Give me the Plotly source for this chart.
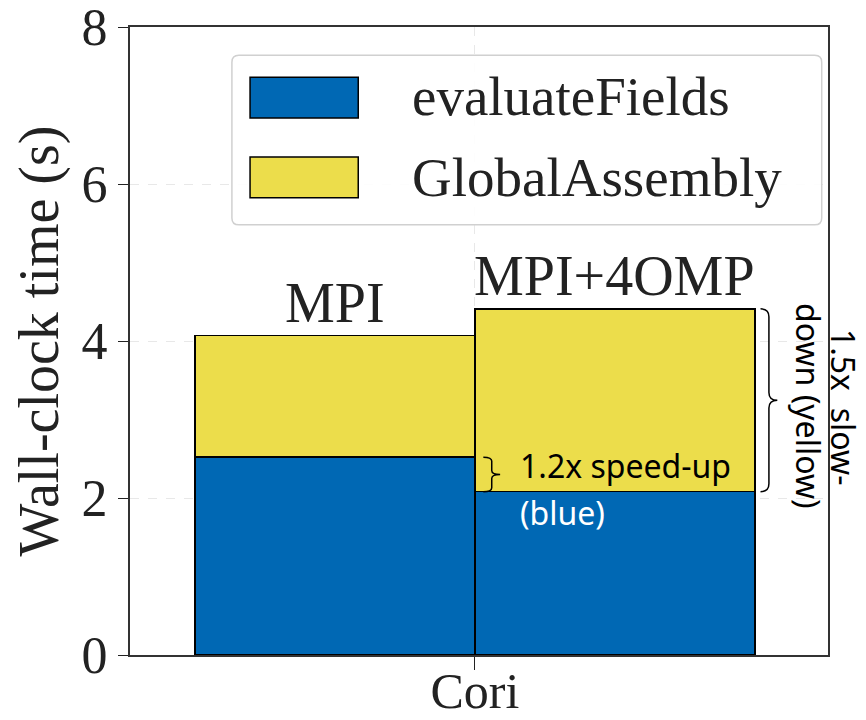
import plotly.graph_objects as go

configs = ["MPI", "MPI+4OMP"]
bar_pos = [-0.5, 0.5]
evaluate_fields = [2.52, 2.08]
global_assembly = [1.55, 2.33]
yticks = [0, 2, 4, 6, 8]

BLUE = "#0068B4"
YELLOW = "#ECDD4B"
SERIF = "Liberation Serif, DejaVu Serif, serif"
SANS = "Noto Sans, Open Sans, sans-serif"

fig = go.Figure()
fig.add_trace(go.Bar(x=bar_pos, y=evaluate_fields, width=1, name="evaluateFields",
                     marker=dict(color=BLUE, line=dict(color="black", width=1.5))))
fig.add_trace(go.Bar(x=bar_pos, y=global_assembly, width=1, name="GlobalAssembly",
                     marker=dict(color=YELLOW, line=dict(color="black", width=1.5))))

totals = [a + b for a, b in zip(evaluate_fields, global_assembly)]
for xp, tot, lab in zip(bar_pos, totals, configs):
    fig.add_annotation(x=xp, y=tot, text=lab, showarrow=False, xanchor="center",
                       yanchor="bottom", yshift=0, font=dict(family=SERIF, size=56, color="#222"))


def brace(xl, ytop, ybot, w, d):
    ym = (ytop + ybot) / 2
    xm = xl + w / 2
    return (f"M {xl},{ytop} Q {xm},{ytop} {xm},{ytop - d} L {xm},{ym + d} "
            f"Q {xm},{ym} {xl + w},{ym} Q {xm},{ym} {xm},{ym - d} "
            f"L {xm},{ybot + d} Q {xm},{ybot} {xl},{ybot}")


def rounded_box(x0, y0, x1, y1, rx, ry):
    return (f"M {x0 + rx},{y0} L {x1 - rx},{y0} Q {x1},{y0} {x1},{y0 + ry} "
            f"L {x1},{y1 - ry} Q {x1},{y1} {x1 - rx},{y1} L {x0 + rx},{y1} "
            f"Q {x0},{y1} {x0},{y1 - ry} L {x0},{y0 + ry} Q {x0},{y0} {x0 + rx},{y0} Z")


# small brace: blue MPI top -> blue MPI+4OMP top
fig.add_shape(type="path", path=brace(0.03, evaluate_fields[0], evaluate_fields[1], 0.06, 0.05),
              line=dict(color="black", width=1.5), xref="x", yref="y")
# big brace: over yellow of MPI+4OMP
fig.add_shape(type="path", path=brace(1.02, totals[1], evaluate_fields[1], 0.06, 0.1),
              line=dict(color="black", width=1.5), xref="x", yref="y")

fig.add_annotation(x=0.154, y=2.42, text="1.2x speed-up", showarrow=False, xanchor="left",
                   yanchor="middle", font=dict(family=SANS, size=32, color="black"))
fig.add_annotation(x=0.154, y=1.82, text="(blue)", showarrow=False, xanchor="left",
                   yanchor="middle", font=dict(family=SANS, size=32, color="white"))
fig.add_annotation(x=0.9713, y=0.3965, xref="paper", yref="paper", text="down (yellow)",
                   showarrow=False, textangle=90, xanchor="center", yanchor="middle",
                   font=dict(family=SANS, size=32, color="black"))
fig.add_annotation(x=1.0215, y=0.395, xref="paper", yref="paper", text="1.5x  slow-",
                   showarrow=False, textangle=90, xanchor="center", yanchor="middle",
                   font=dict(family=SANS, size=32, color="black"))

# legend box drawn by hand to get the large swatches
fig.add_shape(type="path", xref="paper", yref="paper",
              path=rounded_box(0.146, 0.685, 0.991, 0.955, 0.01, 0.011),
              line=dict(color="#d0d0d0", width=1.5), fillcolor="rgba(255,255,255,0.9)")
leg_y = [(0.855, 0.920, 0.889), (0.728, 0.793, 0.761)]
for (y0, y1, yc), col, name in zip(leg_y, [BLUE, YELLOW], ["evaluateFields", "GlobalAssembly"]):
    fig.add_shape(type="rect", xref="paper", yref="paper", x0=0.172, x1=0.327, y0=y0, y1=y1,
                  fillcolor=col, line=dict(color="black", width=1.5))
    fig.add_annotation(x=0.401, y=yc, xref="paper", yref="paper", text=name, showarrow=False,
                       xanchor="left", yanchor="middle",
                       font=dict(family=SERIF, size=55, color="#222"))

# page body has an 8px margin, so the figure is 8px smaller than the window
fig.update_layout(
    width=858, height=712, barmode="stack", showlegend=False,
    margin=dict(l=122, r=38, t=19, b=65),
    plot_bgcolor="white", paper_bgcolor="white",
    font=dict(family=SERIF, size=52, color="#222"),
)
fig.update_xaxes(range=[-1.232, 1.261], tickvals=[0], ticktext=["Cori"], ticks="outside",
                 ticklen=13, tickcolor="#222", showline=True, mirror=True, linecolor="#333",
                 linewidth=2, showgrid=True, gridcolor="#e8e8e8", griddash="dash", zeroline=False,
                 automargin=False, ticklabeloverflow="allow", ticklabelstandoff=-22,
                 tickfont=dict(size=50))
fig.update_yaxes(range=[0, 8], tickvals=yticks, ticks="outside", ticklen=10, tickcolor="#222",
                 ticklabelstandoff=0, ticklabeloverflow="allow",
                 showline=True, mirror=True, linecolor="#333", linewidth=2, showgrid=True,
                 gridcolor="#e8e8e8", griddash="dash", zeroline=False, automargin=False,
                 title=dict(text="Wall-clock time (s)", standoff=12,
                            font=dict(family=SERIF, size=56, color="#222")))

fig.write_html("out.html")
